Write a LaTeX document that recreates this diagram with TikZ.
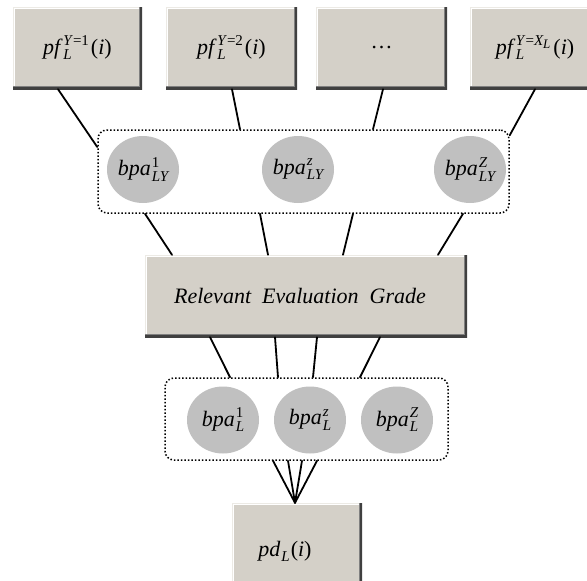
\documentclass[tikz,border=0pt]{standalone}
\usepackage{fontspec}
\setmainfont{Liberation Serif}
\usetikzlibrary{shapes.geometric}

\definecolor{boxfill}{HTML}{D4D0C8}
\definecolor{bevlight}{HTML}{ECEAE5}
\definecolor{bevdark}{HTML}{404040}
\definecolor{bevmid}{HTML}{808080}
\definecolor{ballfill}{HTML}{C0C0C0}

% superscript stacked over subscript, both left aligned
\newcommand\supsub[2]{\begingroup\fontsize{15}{15}\selectfont
  \setbox0\hbox{\raisebox{8.5pt}{#1}}\setbox2\hbox{\raisebox{-5.5pt}{#2}}%
  \ifdim\wd0>\wd2\relax\rlap{\box2}\box0\else\rlap{\box0}\box2\fi\endgroup}
\newcommand\smallsub[1]{\raisebox{-2.5pt}{\fontsize{13}{13}\selectfont #1}}

\tikzset{
  bevelbox/.style={rectangle, fill=boxfill, inner sep=0pt,
    font=\fontsize{22}{25}\selectfont\itshape,
    path picture={
      \draw[bevlight, line width=2pt]
        (path picture bounding box.south west) -- (path picture bounding box.north west)
        -- (path picture bounding box.north east);
      \draw[white, line width=1.3pt]
        ([xshift=1.8pt]path picture bounding box.south west)
        -- ([xshift=1.8pt,yshift=-1.8pt]path picture bounding box.north west)
        -- ([yshift=-1.8pt]path picture bounding box.north east);
      \draw[bevdark, line width=5pt]
        (path picture bounding box.south west) -- (path picture bounding box.south east)
        -- (path picture bounding box.north east);
      \draw[bevmid, line width=1pt]
        ([yshift=3pt]path picture bounding box.south west)
        -- ([xshift=-3pt,yshift=3pt]path picture bounding box.south east)
        -- ([xshift=-3pt]path picture bounding box.north east);
    }},
  groupbox/.style={rectangle, rounded corners=9pt, draw, dotted, line width=1.5pt, inner sep=0pt},
  ball/.style={ellipse, fill=ballfill, inner sep=0pt, minimum width=72pt, minimum height=67pt,
    font=\fontsize{22}{25}\selectfont\itshape},
  conn/.style={line width=1.8pt, line cap=round},
}

\begin{document}
\begin{tikzpicture}[x=1pt, y=-1pt]
  \useasboundingbox (0,0) rectangle (587,581);
  \fill[white] (0,0) rectangle (587,581);
  \clip (0,0) rectangle (587,581);

  % top row of input boxes
  \node[bevelbox, minimum width=129pt, minimum height=82pt] (b1) at (77.5,48)
    {pf\kern3pt\supsub{Y\textup{=1}}{L}\kern2pt\textup{(}i\textup{)}};
  \node[bevelbox, minimum width=131pt, minimum height=82pt] (b2) at (231.5,48)
    {pf\kern3pt\supsub{Y\textup{=2}}{L}\kern2pt\textup{(}i\textup{)}};
  \node[bevelbox, minimum width=131pt, minimum height=82pt] (b3) at (381.5,48)
    {\textup{\dots}};
  \node[bevelbox, minimum width=130pt, minimum height=82pt] (b4) at (535,48)
    {pf\kern3pt\supsub{Y\textup{=}X\smallsub{L}}{L}\kern3pt\textup{(}i\textup{)}};

  % first group of basic probability assignments
  \node[groupbox, minimum width=411pt, minimum height=83pt] (grp1) at (303.5,171.5) {};
  \node[ball] (p1) at (143,169.5) {bpa\kern1pt\supsub{\textup{1}}{LY}};
  \node[ball] (p2) at (298,169.5) {bpa\kern1pt\supsub{z}{LY}};
  \node[ball] (p3) at (470,169.5) {bpa\kern1pt\supsub{Z}{LY}};

  % central grade box
  \node[bevelbox, minimum width=322pt, minimum height=82pt] (g) at (306,296)
    {Relevant\ \ Evaluation\ \ Grade\hspace*{12pt}};

  % second group
  \node[groupbox, minimum width=283pt, minimum height=82pt] (grp2) at (306.5,419) {};
  \node[ball] (q1) at (223,420) {bpa\kern1pt\supsub{\textup{1}}{L}};
  \node[ball] (q2) at (310,420) {bpa\kern1pt\supsub{z}{L}};
  \node[ball] (q3) at (397,420) {bpa\kern1pt\supsub{Z}{L}};

  % output box
  \node[bevelbox, minimum width=130pt, minimum height=97pt] (pd) at (297,551.5)
    {pd\kern1pt\supsub{}{L}\kern1pt\textup{(}i\textup{)}\hspace*{24pt}};

  % connectors: inputs to first group
  \draw[conn] ([xshift=-19.5pt]b1.south) -- ([yshift=24.5pt]grp1.west);
  \draw[conn] ([xshift=0.5pt]b2.south) -- ([xshift=-63.5pt]grp1.north);
  \draw[conn] ([xshift=1.5pt]b3.south) -- ([xshift=69.5pt]grp1.north);
  \draw[conn] (b4.south) -- ([yshift=-6pt]grp1.north east);

  % first group to grade box
  \foreach \a/\b in {-158.5/-134, -43.5/-38, 49.5/37, 159.5/132}
    \draw[conn] ([xshift=\a pt]grp1.south) -- ([xshift=\b pt]g.north);

  % grade box to second group
  \foreach \a/\b in {-96/-76.5, -31/-28.5, 11/6.5, 74/53.5}
    \draw[conn] ([xshift=\a pt]g.south) -- ([xshift=\b pt]grp2.north);

  % second group fanning into the output box
  \foreach \a in {-33.5, -18.5, -4.5, 10.5}
    \draw[conn] ([xshift=\a pt]grp2.south) -- ([xshift=-2pt]pd.north);
\end{tikzpicture}
\end{document}
